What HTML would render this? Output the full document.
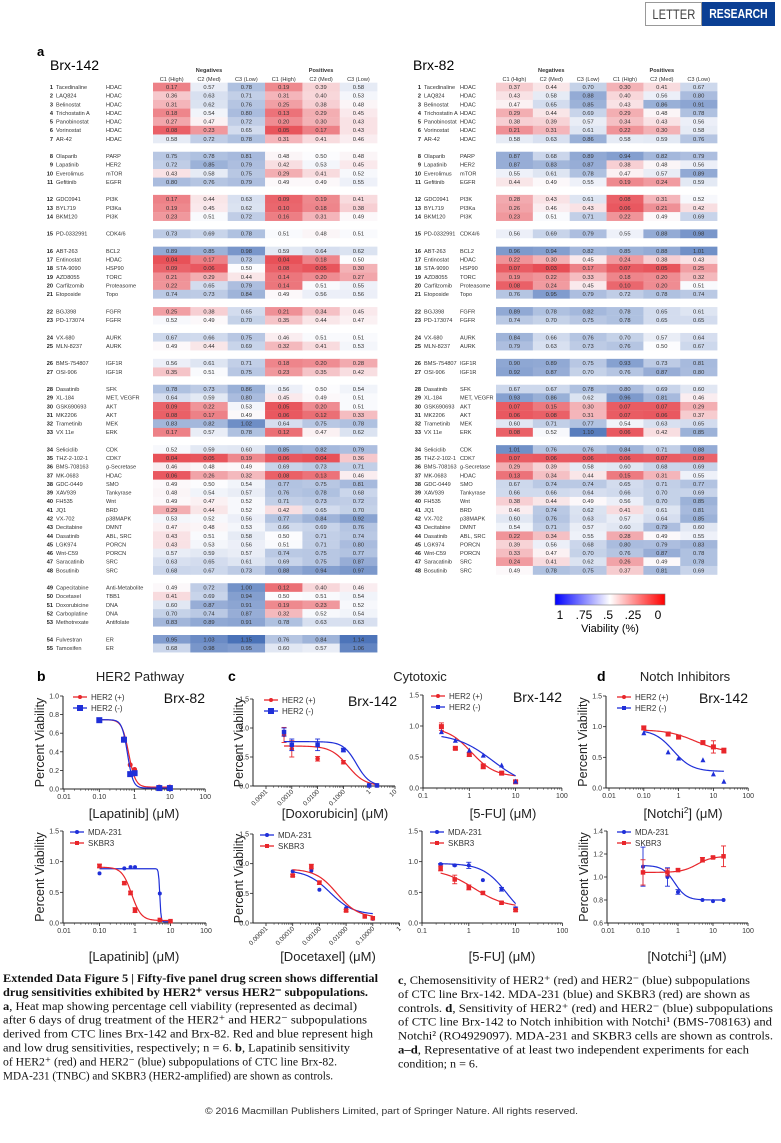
<!DOCTYPE html>
<html><head><meta charset="utf-8">
<style>
html,body{margin:0;padding:0;background:#fff;}
body{width:781px;height:1143px;position:relative;overflow:hidden;font-family:"Liberation Sans",sans-serif;}
svg text{font-family:"Liberation Sans",sans-serif;}
svg text.serif{font-family:"Liberation Serif",serif;}
.badge span{display:inline-block;transform:scaleX(0.8);transform-origin:center;}
</style></head>
<body>
<div class="badge" style="position:absolute;left:645px;top:2px;width:57px;height:24px;border:1px solid #999;box-sizing:border-box;color:#444;font:14px 'Liberation Sans',sans-serif;line-height:23px;text-align:center;white-space:nowrap;overflow:hidden;"><span>LETTER</span></div>
<div class="badge" style="position:absolute;left:702px;top:2px;width:73px;height:24px;background:#0b3f94;color:#fff;font:bold 13px 'Liberation Sans',sans-serif;line-height:24px;text-align:center;white-space:nowrap;overflow:hidden;"><span>RESEARCH</span></div>
<svg id="fig" width="781" height="1143" style="position:absolute;left:0;top:0" xmlns="http://www.w3.org/2000/svg">
<defs>
<linearGradient id="cbar" x1="0" x2="1" y1="0" y2="0">
<stop offset="0" stop-color="#0000ff"/><stop offset="0.5" stop-color="#ffffff"/><stop offset="1" stop-color="#ff0000"/>
</linearGradient>
</defs>
<text x="37" y="56" font-size="13" font-weight="bold">a</text>
<text x="50" y="70" font-size="14">Brx-142</text>
<text x="413" y="70" font-size="14">Brx-82</text>
<g id="hm"></g>
<g>
<rect x="555" y="594" width="110" height="11" fill="url(#cbar)" stroke="#777" stroke-width="0.6"/>
<text x="560" y="619" font-size="12" text-anchor="middle">1</text>
<text x="584" y="619" font-size="12" text-anchor="middle">.75</text>
<text x="608" y="619" font-size="12" text-anchor="middle">.5</text>
<text x="633" y="619" font-size="12" text-anchor="middle">.25</text>
<text x="658" y="619" font-size="12" text-anchor="middle">0</text>
<text x="610" y="632" font-size="11" text-anchor="middle">Viability (%)</text>
</g>
<g id="plots"></g>
<g id="caption"></g>
</svg>
<script>
// ---------------- heat map data ----------------
const drugNames = ["Tacedinaline","LAQ824","Belinostat","Trichostatin A","Panobinostat","Vorinostat","AR-42","Olaparib","Lapatinib","Everolimus","Gefitinib","GDC0941","BYL719","BKM120","PD-0332991","ABT-263","Entinostat","STA-9090","AZD8055","Carfilzomib","Etoposide","BGJ398","PD-173074","VX-680","MLN-8237","BMS-754807","OSI-906","Dasatinib","XL-184","GSK690693","MK2206","Trametinib","VX 11e","Seliciclib","THZ-2-102-1","BMS-708163","MK-0683","GDC-0449","XAV939","FH535","JQ1","VX-702","Decitabine","Dasatinib","LGK974","Wnt-C59","Saracatinib","Bosutinib","Capecitabine","Docetaxel","Doxorubicine","Carboplatine","Methotrexate","Fulvestran","Tamoxifen"];
const drugTargets = ["HDAC","HDAC","HDAC","HDAC","HDAC","HDAC","HDAC","PARP","HER2","mTOR","EGFR","PI3K","PI3Ka","PI3K","CDK4/6","BCL2","HDAC","HSP90","TORC","Proteasome","Topo","FGFR","FGFR","AURK","AURK","IGF1R","IGF1R","SFK","MET, VEGFR","AKT","AKT","MEK","ERK","CDK","CDK7","g-Secretase","HDAC","SMO","Tankyrase","Wnt","BRD","p38MAPK","DMNT","ABL, SRC","PORCN","PORCN","SRC","SRC","Anti-Metabolite","TBB1","DNA","DNA","Antifolate","ER","ER"];
const gapBefore = [8,12,15,16,22,24,26,28,34,49,54];
const colLabels = ["C1 (High)","C2 (Med)","C3 (Low)","C1 (High)","C2 (Med)","C3 (Low)"];
const brx142 = [
[.17,.57,.78,.19,.39,.58],[.36,.63,.71,.31,.40,.53],[.31,.62,.76,.25,.38,.48],[.18,.54,.80,.13,.29,.45],[.27,.47,.72,.20,.30,.43],[.08,.23,.65,.05,.17,.43],[.58,.72,.78,.31,.41,.46],
[.75,.78,.81,.48,.50,.48],[.72,.85,.79,.42,.53,.45],[.43,.58,.75,.29,.41,.52],[.80,.76,.79,.49,.49,.55],
[.17,.44,.63,.09,.19,.41],[.19,.45,.62,.10,.18,.38],[.23,.51,.72,.16,.31,.49],
[.73,.69,.78,.51,.48,.51],
[.89,.85,.98,.59,.64,.62],[.04,.17,.73,.04,.18,.50],[.09,.06,.50,.08,.05,.30],[.21,.29,.44,.14,.20,.27],[.22,.65,.79,.14,.51,.55],[.74,.73,.84,.49,.56,.56],
[.25,.38,.65,.21,.34,.45],[.52,.49,.70,.35,.44,.47],
[.67,.66,.75,.46,.51,.51],[.49,.44,.69,.32,.41,.53],
[.56,.61,.71,.18,.20,.28],[.35,.51,.75,.23,.35,.42],
[.78,.73,.86,.56,.50,.54],[.64,.59,.80,.45,.49,.51],[.09,.22,.53,.05,.20,.51],[.08,.17,.49,.06,.12,.33],[.83,.82,1.02,.64,.75,.78],[.17,.57,.78,.12,.47,.62],
[.52,.59,.60,.85,.82,.79],[.04,.05,.19,.06,.04,.36],[.46,.48,.49,.69,.73,.71],[.06,.26,.32,.08,.13,.46],[.49,.50,.54,.77,.75,.81],[.48,.54,.57,.76,.78,.68],[.49,.47,.52,.71,.73,.72],[.29,.44,.52,.42,.65,.70],[.53,.52,.56,.77,.84,.92],[.47,.48,.53,.66,.69,.76],[.43,.51,.58,.50,.71,.74],[.43,.53,.56,.51,.71,.80],[.57,.59,.57,.74,.75,.77],[.63,.65,.61,.69,.75,.87],[.68,.67,.73,.88,.94,.97],
[.49,.72,1.00,.12,.40,.46],[.41,.69,.94,.50,.51,.54],[.60,.87,.91,.19,.23,.52],[.70,.74,.87,.32,.52,.54],[.83,.89,.91,.78,.63,.63],
[.95,1.03,1.15,.76,.84,1.14],[.68,.98,.95,.60,.57,1.06]];
const brx82 = [
[.37,.44,.70,.30,.41,.67],[.43,.58,.88,.40,.56,.80],[.47,.65,.85,.43,.86,.91],[.29,.44,.69,.29,.48,.78],[.38,.39,.57,.34,.43,.56],[.21,.31,.61,.22,.30,.58],[.58,.63,.86,.58,.59,.76],
[.87,.68,.89,.94,.82,.79],[.87,.83,.87,.38,.48,.56],[.55,.61,.78,.47,.57,.89],[.44,.49,.55,.19,.24,.59],
[.28,.43,.61,.08,.31,.52],[.26,.46,.43,.06,.21,.42],[.23,.51,.71,.22,.49,.69],
[.56,.69,.79,.55,.88,.98],
[.96,.94,.82,.85,.88,1.01],[.22,.30,.45,.24,.38,.43],[.07,.03,.17,.07,.05,.25],[.19,.22,.33,.18,.20,.32],[.08,.24,.45,.10,.20,.51],[.76,.95,.79,.72,.78,.74],
[.89,.78,.82,.78,.65,.61],[.74,.70,.75,.78,.65,.65],
[.84,.66,.76,.70,.57,.64],[.79,.63,.73,.76,.50,.67],
[.90,.89,.75,.93,.73,.81],[.92,.87,.70,.76,.87,.80],
[.67,.67,.78,.80,.69,.60],[.93,.86,.62,.96,.81,.46],[.07,.15,.30,.07,.07,.29],[.06,.08,.31,.07,.06,.37],[.60,.71,.77,.54,.63,.65],[.08,.52,1.10,.06,.42,.85],
[1.01,.76,.76,.84,.71,.88],[.07,.06,.06,.06,.07,.09],[.29,.39,.58,.60,.68,.69],[.13,.34,.44,.15,.31,.55],[.67,.74,.74,.65,.71,.77],[.66,.66,.64,.66,.70,.69],[.38,.44,.49,.56,.70,.85],[.46,.74,.62,.41,.61,.81],[.60,.76,.63,.57,.64,.85],[.54,.71,.57,.60,.79,.60],[.22,.34,.55,.28,.49,.55],[.39,.56,.68,.80,.79,.83],[.33,.47,.70,.76,.87,.78],[.24,.41,.62,.26,.49,.78],[.49,.78,.75,.37,.81,.69]];

// ---------------- dose-response data ----------------
const lapDose = [0.1,0.5,0.75,1,5,10];
const lapHer2Pos = [0.74,0.54,0.26,0.21,0.02,0.02];
const lapHer2Neg = [0.74,0.53,0.16,0.17,0.01,0.01];
const lapMda = [0.81,0.89,0.91,0.91,0.48,0.03];
const lapSkbr = [0.93,0.65,0.49,0.21,0.05,0.03];
const lapSkbrErr = [0.03,0.02,0.03,0.04,0,0];
const doxDose = [0.0005,0.001,0.01,0.1,1,2];
const doxHer2Pos = [0.88,0.64,0.47,0.41,0.01,0.01];
const doxHer2PosErr = [0.13,0.14,0.04,0.03,0,0];
const doxHer2Neg = [0.93,0.71,0.71,0.62,0.01,0.01];
const doxHer2NegErr = [0.07,0.1,0.1,0.03,0,0];
const docDose = [0.0001,0.0005,0.001,0.01,0.05,0.1];
const docMda = [0.87,0.88,0.56,0.25,0.11,0.07];
const docSkbr = [0.80,0.95,0.68,0.21,0.11,0.08];
const docSkbrErr = [0.02,0.04,0.03,0.02,0,0];
const fuDose = [0.25,0.5,1,2,5,10];
const fuHer2Pos = [0.99,0.64,0.54,0.35,0.24,0.10];
const fuHer2PosErr = [0.06,0.02,0.03,0.04,0.02,0.02];
const fuHer2Neg = [0.91,0.77,0.61,0.53,0.37,0.11];
const fuMda = [0.96,0.94,0.94,0.70,0.55,0.24];
const fuMdaErr = [0.01,0.01,0.05,0,0.03,0.02];
const fuSkbr = [0.89,0.71,0.58,0.49,0.33,0.21];
const fuSkbrErr = [0.04,0.07,0.04,0.02,0.02,0.02];
const notchDose = [0.1,0.5,1,5,10,20];
const n2Her2Pos = [0.98,0.88,0.83,0.74,0.67,0.61];
const n2Her2PosErr = [0.03,0.03,0.03,0.03,0.1,0.04];
const n2Her2Neg = [0.90,0.59,0.49,0.46,0.23,0.11];
const n1Mda = [1.09,1.00,0.87,0.80,0.79,0.80];
const n1MdaErr = [0.17,0.08,0.02,0,0,0];
const n1Skbr = [1.04,1.04,1.06,1.15,1.17,1.18];
const n1SkbrErr = [0.11,0.03,0.01,0.02,0.01,0.09];
// fitted [top, bottom, EC50, hill]
const fitLapPos = [0.745,0.02,0.68,4.5];
const fitLapNeg = [0.745,0.01,0.63,5.5];
const fitLapMda = [0.885,0.02,5.0,25];
const fitLapSkbr = [0.91,0.04,0.8,3.2];
const fitDoxPos = [0.69,0.0,0.15,1.3];
const fitDoxNeg = [0.765,0.0,0.32,1.7];
const fitDocMda = [0.89,0.14,0.0025,1.0];
const fitDocSkbr = [0.91,0.09,0.0045,1.1];
const fitFuPos = [0.98,0.18,1.1,1.7];
const fitFuNeg = [0.88,0.0,3.2,1.1];
const fitFuMda = [0.97,0.0,6.5,1.7];
const fitFuSkbr = [0.88,0.25,1.3,1.3];
const fitN2Pos = [0.95,0.58,3.0,1.1];
const fitN2Neg = [0.95,0.27,0.7,1.6];
const fitN1Mda = [1.10,0.80,0.8,2.6];
const fitN1Skbr = [1.04,1.18,3.5,2.0];

const NS = "http://www.w3.org/2000/svg";
function mk(parent, tag, attrs, txt){
  const e = document.createElementNS(NS, tag);
  for (const k in attrs) e.setAttribute(k, attrs[k]);
  if (txt !== undefined) e.textContent = txt;
  parent.appendChild(e); return e;
}
function mix(a,b,t){return 'rgb('+a.map((v,i)=>Math.round(v+(b[i]-v)*t)).join(',')+')';}
function heatColor(v){
  const w=[252,252,254];
  if (v>=0.5){return mix(w,[74,114,184],Math.min((v-0.5)/0.65,1));}
  return mix(w,[230,66,74],Math.min((0.5-v)/0.5,1));
}
const ROW0=87, PITCH=8.63;
function rowY(i){ const g=gapBefore.filter(x=>x<=i).length; return ROW0+(i-1+g)*PITCH; }

function drawHeat(data, cfg, nameKey){
  const g = mk(document.getElementById('hm'),'g',{});
  
  
  colLabels.forEach((c,j)=>{
    mk(g,'text',{x:cfg.cx+cfg.cw*(j+0.5),y:81,'font-size':5.6,'text-anchor':'middle',fill:'#333'},c);
  });
  mk(g,'text',{x:cfg.cx+cfg.cw*1.5,y:72,'font-size':5.6,'font-weight':'bold','text-anchor':'middle',fill:'#333'},'Negatives');
  mk(g,'text',{x:cfg.cx+cfg.cw*4.5,y:72,'font-size':5.6,'font-weight':'bold','text-anchor':'middle',fill:'#333'},'Positives');
  data.forEach((row,k)=>{
    const i=k+1, y=rowY(i);
    mk(g,'text',{x:cfg.nx,y:y+2,'font-size':5.6,'font-weight':'bold','text-anchor':'end',fill:'#222'},String(i));
    mk(g,'text',{x:cfg.nx+3,y:y+2,'font-size':5.6,fill:'#333'},drugNames[k]);
    mk(g,'text',{x:cfg.tx,y:y+2,'font-size':5.6,fill:'#333'},drugTargets[k]);
    row.forEach((v,j)=>{
      const r = mk(g,'rect',{x:cfg.cx+cfg.cw*j,y:y-PITCH/2,width:cfg.cw+0.3,height:PITCH+0.2,fill:heatColor(v)});
      
      
      mk(g,'text',{x:cfg.cx+cfg.cw*(j+0.5),y:y+2,'font-size':5.8,'text-anchor':'middle',fill:'#333'},v.toFixed(2));
    });
  });
}
drawHeat(brx142,{nx:53,tx:106,cx:153,cw:37.35},'heatmap-brx142');
drawHeat(brx82,{nx:421,tx:460,cx:496,cw:36.85},'heatmap-brx82');

// ---------------- plots ----------------
const RED='#e8262b', BLUE='#1f2fd8';
const plots = document.getElementById('plots');
function panel(p){
  const g = mk(plots,'g',{});
  
  
  const X = v => p.lx + (Math.log10(v)-p.lmin)*p.dec;
  const Y = v => p.yb - (v-p.ymin)/(p.ymax-p.ymin)*(p.yb-p.yt);
  const xEnd = p.lx + (p.lmax-p.lmin)*p.dec;
  mk(g,'line',{x1:p.ax,y1:p.yt,x2:p.ax,y2:p.yb,stroke:'#222','stroke-width':1});
  mk(g,'line',{x1:p.ax,y1:p.yb,x2:xEnd,y2:p.yb,stroke:'#222','stroke-width':1});
  p.yticks.forEach(t=>{
    mk(g,'line',{x1:p.ax-3,y1:Y(t),x2:p.ax,y2:Y(t),stroke:'#222','stroke-width':0.8});
    mk(g,'text',{x:p.ax-4,y:Y(t)+2.5,'font-size':7,'text-anchor':'end',fill:'#333'},t.toFixed(1));
  });
  for(let d=p.lmin; d<=p.lmax; d++){
    const x=p.lx+(d-p.lmin)*p.dec;
    mk(g,'line',{x1:x,y1:p.yb,x2:x,y2:p.yb+3,stroke:'#222','stroke-width':0.8});
    if(d<p.lmax) for(let m=2;m<10;m++){
      const xm=p.lx+(d-p.lmin+Math.log10(m))*p.dec;
      mk(g,'line',{x1:xm,y1:p.yb,x2:xm,y2:p.yb+1.8,stroke:'#222','stroke-width':0.5});
    }
    const lab=p.xlabels[d-p.lmin];
    if(p.rot){
      mk(g,'text',{x:x+2,y:p.yb+6,'font-size':6.5,'text-anchor':'end',fill:'#333',transform:`rotate(-45 ${x+2} ${p.yb+6})`},lab);
    } else {
      mk(g,'text',{x:x,y:p.yb+10,'font-size':7,'text-anchor':'middle',fill:'#333'},lab);
    }
  }
  if(p.ytitle){
    const ty=(p.yt+p.yb)/2;
    mk(g,'text',{x:p.ytx,y:ty,'font-size':12.5,'text-anchor':'middle',fill:'#222',transform:`rotate(-90 ${p.ytx} ${ty})`},'Percent Viability');
  }
  const xt = mk(g,'text',{x:p.xtx,y:p.xty,'font-size':13,'text-anchor':'middle',fill:'#222'});
  xt.textContent = p.xtitle;
  if(p.sup){ mk(xt,'tspan',{'font-size':8,dy:-5},p.sup); mk(xt,'tspan',{dy:5},p.xtitle2); }
  if(p.cell) mk(g,'text',{x:p.cellx,y:p.yt+7,'font-size':14,'text-anchor':'end',fill:'#111'},p.cell);
  p.series.forEach((s,si)=>{
    const sg = mk(g,'g',{});
    
    
    const f=s.fit, x0=Math.min(...s.x), x1=Math.max(...s.x);
    let dstr='';
    for(let k=0;k<=80;k++){
      const lv=Math.log10(x0)+(Math.log10(x1)-Math.log10(x0))*k/80, xv=Math.pow(10,lv);
      const yv=f[1]+(f[0]-f[1])/(1+Math.pow(xv/f[2],f[3]));
      dstr+=(k?'L':'M')+X(xv).toFixed(2)+' '+Y(yv).toFixed(2);
    }
    mk(sg,'path',{d:dstr,fill:'none',stroke:s.color,'stroke-width':1.2});
    s.x.forEach((xv,k)=>{
      const cx=X(xv), cy=Y(s.y[k]);
      const e=(s.err||[])[k]||0;
      if(e>0){
        mk(sg,'line',{x1:cx,y1:Y(s.y[k]+e),x2:cx,y2:Y(s.y[k]-e),stroke:s.color,'stroke-width':0.9});
        mk(sg,'line',{x1:cx-2.5,y1:Y(s.y[k]+e),x2:cx+2.5,y2:Y(s.y[k]+e),stroke:s.color,'stroke-width':0.9});
        mk(sg,'line',{x1:cx-2.5,y1:Y(s.y[k]-e),x2:cx+2.5,y2:Y(s.y[k]-e),stroke:s.color,'stroke-width':0.9});
      }
      marker(sg,s.shape,cx,cy,s.size,s.color);
    });
    const ly=p.yt+1+si*11, lx=p.legx;
    mk(g,'line',{x1:lx,y1:ly,x2:lx+14,y2:ly,stroke:s.color,'stroke-width':1.3});
    marker(g,s.legShape||s.shape,lx+7,ly,s.legSize||4,s.color);
    mk(g,'text',{x:lx+18,y:ly+3,'font-size':8,fill:'#333'},s.label);
  });
}
function marker(g,shape,x,y,sz,c){
  if(shape==='circle') mk(g,'circle',{cx:x,cy:y,r:sz/2,fill:c});
  else if(shape==='square') mk(g,'rect',{x:x-sz/2,y:y-sz/2,width:sz,height:sz,fill:c});
  else mk(g,'path',{d:`M${x} ${y-sz/2}L${x+sz/2} ${y+sz/2}L${x-sz/2} ${y+sz/2}Z`,fill:c});
}
const dec2 = ["0.01","0.10","1","10","100"];
panel({name:'plot-lapatinib-brx82',ax:63,lx:64,dec:35.3,lmin:-2,lmax:2,yt:696,yb:789,ymin:0,ymax:1,yticks:[0,.2,.4,.6,.8,1],xlabels:dec2,ytitle:1,ytx:44,xtitle:'[Lapatinib] (\u03bcM)',xtx:134,xty:818,cell:'Brx-82',cellx:205,legx:73,
  series:[{label:'HER2 (+)',x:lapDose,y:lapHer2Pos,fit:fitLapPos,color:RED,shape:'circle',size:5},
          {label:'HER2 (-)',x:lapDose,y:lapHer2Neg,fit:fitLapNeg,color:BLUE,shape:'square',size:6,legSize:6}]});
panel({name:'plot-lapatinib-controls',ax:63,lx:64,dec:35.5,lmin:-2,lmax:2,yt:831,yb:923,ymin:0,ymax:1.5,yticks:[0,.5,1,1.5],xlabels:dec2,ytitle:1,ytx:44,xtitle:'[Lapatinib] (\u03bcM)',xtx:134,xty:961,legx:70,
  series:[{label:'MDA-231',x:lapDose,y:lapMda,fit:fitLapMda,color:BLUE,shape:'circle',size:4},
          {label:'SKBR3',x:lapDose,y:lapSkbr,err:lapSkbrErr,fit:fitLapSkbr,color:RED,shape:'square',size:4.5}]});
panel({name:'plot-doxorubicin-brx142',ax:253,lx:266,dec:25.8,lmin:-4,lmax:1,yt:699,yb:786,ymin:0,ymax:1.5,yticks:[0,.5,1,1.5],xlabels:["0.0001","0.0010","0.0100","0.1000","1","10"],rot:1,ytitle:1,ytx:243,xtitle:'[Doxorubicin] (\u03bcM)',xtx:335,xty:818,cell:'Brx-142',cellx:397,legx:264,
  series:[{label:'HER2 (+)',x:doxDose,y:doxHer2Pos,err:doxHer2PosErr,fit:fitDoxPos,color:RED,shape:'circle',size:4.5},
          {label:'HER2 (-)',x:doxDose,y:doxHer2Neg,err:doxHer2NegErr,fit:fitDoxNeg,color:BLUE,shape:'square',size:4.5,legSize:6}]});
panel({name:'plot-docetaxel-controls',ax:253,lx:266,dec:26.7,lmin:-5,lmax:0,yt:834,yb:923,ymin:0,ymax:1.5,yticks:[0,.5,1,1.5],xlabels:["0.00001","0.00010","0.00100","0.01000","0.10000","1"],rot:1,ytitle:1,ytx:243,xtitle:'[Docetaxel] (\u03bcM)',xtx:328,xty:961,legx:260,
  series:[{label:'MDA-231',x:docDose,y:docMda,fit:fitDocMda,color:BLUE,shape:'circle',size:4},
          {label:'SKBR3',x:docDose,y:docSkbr,err:docSkbrErr,fit:fitDocSkbr,color:RED,shape:'square',size:4.5}]});
panel({name:'plot-5fu-brx142',ax:423,lx:423,dec:46.3,lmin:-1,lmax:2,yt:695,yb:788,ymin:0,ymax:1.5,yticks:[0,.5,1,1.5],xlabels:["0.1","1","10","100"],xtitle:'[5-FU] (\u03bcM)',xtx:503,xty:818,cell:'Brx-142',cellx:562,legx:431,
  series:[{label:'HER2 (+)',x:fuDose,y:fuHer2Pos,err:fuHer2PosErr,fit:fitFuPos,color:RED,shape:'square',size:5,legShape:'circle'},
          {label:'HER2 (-)',x:fuDose,y:fuHer2Neg,fit:fitFuNeg,color:BLUE,shape:'tri',size:5,legShape:'square'}]});
panel({name:'plot-5fu-controls',ax:422,lx:422,dec:46.8,lmin:-1,lmax:2,yt:831,yb:923,ymin:0,ymax:1.5,yticks:[0,.5,1,1.5],xlabels:["0.1","1","10","100"],xtitle:'[5-FU] (\u03bcM)',xtx:502,xty:961,legx:430,
  series:[{label:'MDA-231',x:fuDose,y:fuMda,err:fuMdaErr,fit:fitFuMda,color:BLUE,shape:'circle',size:4},
          {label:'SKBR3',x:fuDose,y:fuSkbr,err:fuSkbrErr,fit:fitFuSkbr,color:RED,shape:'square',size:4.5}]});
panel({name:'plot-notchi2-brx142',ax:606,lx:609,dec:34.8,lmin:-2,lmax:2,yt:696,yb:788,ymin:0,ymax:1.5,yticks:[0,.5,1,1.5],xlabels:dec2,ytitle:1,ytx:587,xtitle:'[Notchi',sup:'2',xtitle2:'] (\u03bcM)',xtx:683,xty:818,cell:'Brx-142',cellx:748,legx:617,
  series:[{label:'HER2 (+)',x:notchDose,y:n2Her2Pos,err:n2Her2PosErr,fit:fitN2Pos,color:RED,shape:'square',size:5,legShape:'circle'},
          {label:'HER2 (-)',x:notchDose,y:n2Her2Neg,fit:fitN2Neg,color:BLUE,shape:'tri',size:5,legShape:'square'}]});
panel({name:'plot-notchi1-controls',ax:607,lx:608,dec:35,lmin:-2,lmax:2,yt:831,yb:923,ymin:0.6,ymax:1.4,yticks:[.6,.8,1,1.2,1.4],xlabels:dec2,ytitle:1,ytx:588,xtitle:'[Notchi',sup:'1',xtitle2:'] (\u03bcM)',xtx:687,xty:961,legx:617,
  series:[{label:'MDA-231',x:notchDose,y:n1Mda,err:n1MdaErr,fit:fitN1Mda,color:BLUE,shape:'circle',size:4},
          {label:'SKBR3',x:notchDose,y:n1Skbr,err:n1SkbrErr,fit:fitN1Skbr,color:RED,shape:'square',size:4.5}]});

[['b',37],['c',228],['d',597]].forEach(t=>{
  const e=mk(plots,'text',{x:t[1],y:681,'font-size':14,'font-weight':'bold'},t[0]);
  
  
});
[['HER2 Pathway',140],['Cytotoxic',420],['Notch Inhibitors',685]].forEach(t=>{
  const e=mk(plots,'text',{x:t[1],y:681,'font-size':13,'text-anchor':'middle',fill:'#222'},t[0]);
  
  
});

// ---------------- caption ----------------
const cap=document.getElementById('caption');
function capLine(x,y,w,parts,fs){
  const t=mk(cap,'text',{x:x,y:y,'font-size':fs||12,textLength:w,lengthAdjust:'spacingAndGlyphs',fill:'#111','class':'serif',style:'font-family:"Liberation Serif",serif'});
  
  
  parts.forEach(p=>{ const s=mk(t,'tspan',p.b?{'font-weight':'bold'}:{}); s.textContent=p.t; });
}
const L=[
 [375,[{t:'Extended Data Figure 5 | Fifty-five panel drug screen shows differential',b:1}]],
 [365,[{t:'drug sensitivities exhibited by HER2\u207a versus HER2\u207b subpopulations.',b:1}]],
 [354,[{t:'a',b:1},{t:', Heat map showing percentage cell viability (represented as decimal)'}]],
 [364,[{t:'after 6 days of drug treatment of the HER2\u207a and HER2\u207b subpopulations'}]],
 [370,[{t:'derived from CTC lines Brx-142 and Brx-82. Red and blue represent high'}]],
 [347,[{t:'and low drug sensitivities, respectively; n = 6. '},{t:'b',b:1},{t:', Lapatinib sensitivity'}]],
 [334,[{t:'of HER2\u207a (red) and HER2\u207b (blue) subpopulations of CTC line Brx-82.'}]],
 [330,[{t:'MDA-231 (TNBC) and SKBR3 (HER2-amplified) are shown as controls.'}]]];
L.forEach((l,i)=>capLine(3,982+i*13.9,l[0],l[1]));
const R=[
 [352,[{t:'c',b:1},{t:', Chemosensitivity of HER2\u207a (red) and HER2\u207b (blue) subpopulations'}]],
 [352,[{t:'of CTC line Brx-142. MDA-231 (blue) and SKBR3 (red) are shown as'}]],
 [375,[{t:'controls. '},{t:'d',b:1},{t:', Sensitivity of HER2\u207a (red) and HER2\u207b (blue) subpopulations'}]],
 [374,[{t:'of CTC line Brx-142 to Notch inhibition with Notchi\u00b9 (BMS-708163) and'}]],
 [375,[{t:'Notchi\u00b2 (RO4929097). MDA-231 and SKBR3 cells are shown as controls.'}]],
 [351,[{t:'a\u2013d',b:1},{t:', Representative of at least two independent experiments for each'}]],
 [80,[{t:'condition; n = 6.'}]]];
R.forEach((l,i)=>capLine(398,984+i*13.9,l[0],l[1]));
const ft=mk(cap,'text',{x:205,y:1114,'font-size':9,textLength:373,lengthAdjust:'spacingAndGlyphs',fill:'#333'},'\u00a9 2016 Macmillan Publishers Limited, part of Springer Nature. All rights reserved.');


</script>
</body></html>
